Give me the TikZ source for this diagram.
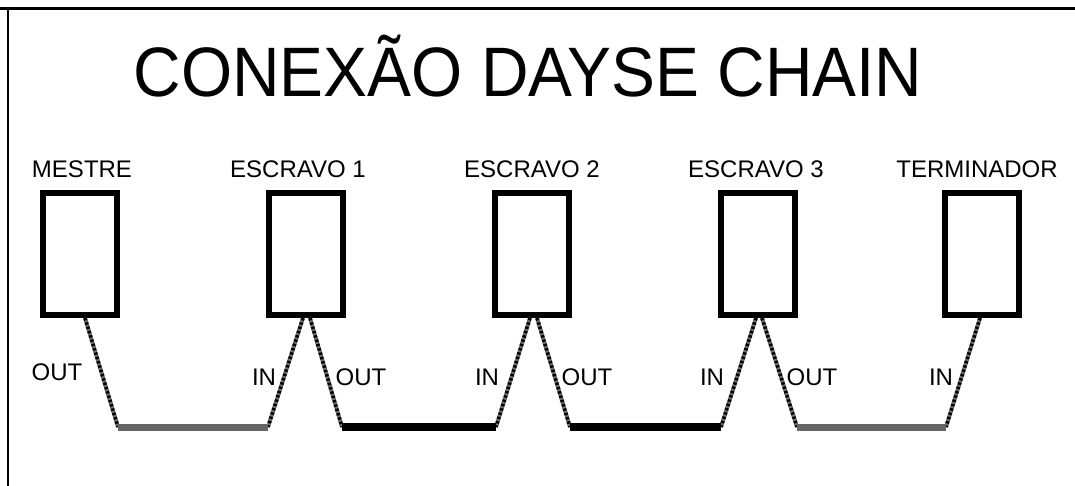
\documentclass[tikz,border=0pt]{standalone}
\usepackage{fontspec}
\setmainfont{Liberation Sans}
\usetikzlibrary{calc}

\begin{document}
\begin{tikzpicture}
  [x=1pt,y=-1pt,
   unit/.style={rectangle, draw, line width=6pt, minimum width=74pt, minimum height=122pt, inner sep=0pt},
   tag/.style={font=\fontsize{24}{24}\selectfont, inner sep=0pt, anchor=base},
   leg/.style={line width=4pt, draw=black!55, postaction={draw=black, line width=3.5pt, dash pattern=on 2.5pt off 2pt}},
   lite/.style={line width=7pt, draw=black!60},
   heavy/.style={line width=8pt, draw=black}]
  \useasboundingbox (0,0) rectangle (1075,486);
  \draw[line width=3pt] (0,9) -- (1075,9);
  \draw[line width=1.5pt] (8,9) -- (8,486);

  \node[inner sep=0pt, anchor=base, font=\addfontfeature{FakeStretch=0.94}\fontsize{70}{70}\selectfont] (title) at (528,97) {CONEXÃO DAYSE CHAIN};

  % the five devices
  \node[unit] (m)  at (80,254)  {};
  \node[unit] (e1) at (306,254) {};
  \node[unit] (e2) at (532,254) {};
  \node[unit] (e3) at (758,254) {};
  \node[unit] (t)  at (982,254) {};

  \node[tag] (lm)  at (82,178)  {MESTRE};
  \node[tag] (le1) at (298,178) {ESCRAVO 1};
  \node[tag] (le2) at (532,178) {ESCRAVO 2};
  \node[tag] (le3) at (756,178) {ESCRAVO 3};
  \node[tag] (lt)  at (977,178) {TERMINADOR};

  % cable corners
  \coordinate (b1) at (118,427);
  \coordinate (b2) at (268,427);
  \coordinate (b3) at (342,427);
  \coordinate (b4) at (496,427);
  \coordinate (b5) at (570,427);
  \coordinate (b6) at (721,427);
  \coordinate (b7) at (797,427);
  \coordinate (b8) at (946,427);

  \foreach \u/\dx/\bend in {m/5/b1,e1/-3/b2,e1/4/b3,e2/-2/b4,e2/5/b5,e3/-2/b6,e3/4/b7,t/-2/b8}
    \draw[leg] ($(\u.south)+(\dx,0)$) -- (\bend);

  \draw[lite] (b1) -- (b2);
  \draw[heavy] (b3) -- (b4);
  \draw[heavy] (b5) -- (b6);
  \draw[lite] (b7) -- (b8);

  \node[tag] (o0) at (57,380)  {OUT};
  \node[tag] (i1) at (264,385) {IN};
  \node[tag] (o1) at (361,385) {OUT};
  \node[tag] (i2) at (487,385) {IN};
  \node[tag] (o2) at (587,385) {OUT};
  \node[tag] (i3) at (712,385) {IN};
  \node[tag] (o3) at (812,385) {OUT};
  \node[tag] (i4) at (941,385) {IN};

\end{tikzpicture}
\end{document}
